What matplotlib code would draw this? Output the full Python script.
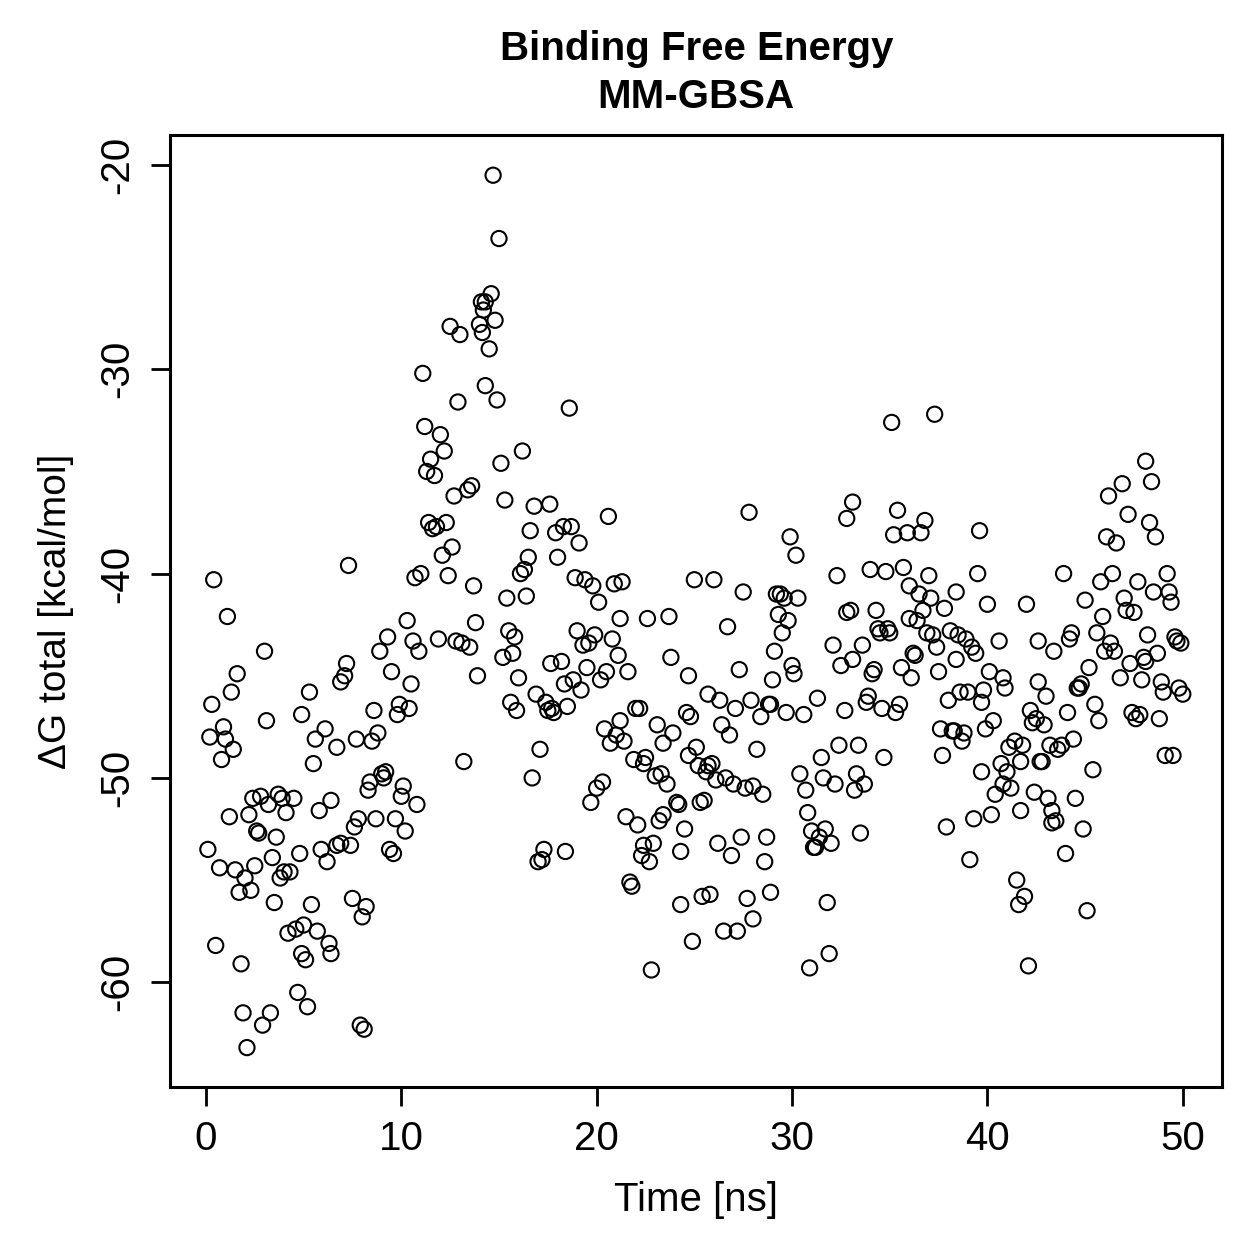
import matplotlib.pyplot as plt

plt.rcParams['font.family'] = ['Liberation Sans', 'DejaVu Sans']
plt.rcParams['axes.unicode_minus'] = False

# time [ns] and total binding free energy [kcal/mol]
time_ns = [
    0.1, 0.2, 0.3, 0.4, 0.5, 0.7, 0.8, 0.9, 1.0, 1.1,
    1.3, 1.2, 1.4, 1.5, 1.6, 1.7, 1.8, 1.9, 2.0, 2.1,
    2.2, 2.3, 2.4, 2.5, 2.6, 2.7, 2.8, 2.9, 3.0, 3.1,
    3.2, 3.3, 3.4, 3.5, 3.6, 3.7, 3.8, 3.9, 4.0, 4.1,
    4.2, 4.3, 4.5, 4.6, 4.7, 4.8, 4.9, 5.0, 4.9, 5.1,
    5.2, 5.4, 5.3, 5.5, 5.6, 5.7, 5.8, 5.9, 6.1, 6.2,
    6.3, 6.4, 6.4, 6.7, 6.7, 6.9, 6.9, 7.1, 7.2, 7.3,
    7.4, 7.5, 7.6, 7.7, 7.8, 7.9, 8.1, 8.0, 8.2, 8.3,
    8.4, 8.5, 8.6, 8.7, 8.8, 8.9, 9.0, 9.1, 9.2, 9.3,
    9.4, 9.6, 9.5, 9.7, 9.8, 9.9, 10.0, 10.1, 10.2, 10.3,
    10.4, 10.5, 10.6, 10.7, 10.8, 10.9, 11.0, 11.1, 11.2, 11.3,
    11.4, 11.5, 11.6, 11.7, 11.8, 11.9, 12.0, 12.1, 12.2, 12.3,
    12.4, 12.5, 12.6, 12.7, 12.8, 12.9, 13.0, 13.1, 13.2, 13.4,
    13.5, 13.6, 13.7, 13.8, 13.9, 14.0, 14.1, 14.15, 14.2, 14.3,
    14.3, 14.5, 14.6, 14.7, 14.8, 14.9, 15.0, 15.1, 15.2, 15.3,
    15.4, 15.5, 15.6, 15.7, 15.8, 15.9, 16.0, 16.1, 16.2, 16.3,
    16.4, 16.5, 16.6, 16.7, 16.8, 16.9, 17.0, 17.1, 17.2, 17.3,
    17.4, 17.5, 17.6, 17.7, 17.65, 17.8, 17.9, 18.0, 18.2, 18.3,
    18.35, 18.4, 18.5, 18.6, 18.7, 18.8, 18.9, 19.0, 19.1, 19.2,
    19.3, 19.4, 19.5, 19.6, 19.7, 19.8, 19.9, 20.0, 20.1, 20.2,
    20.3, 20.4, 20.5, 20.6, 20.7, 20.8, 20.9, 21.0, 21.1, 21.2,
    21.2, 21.3, 21.4, 21.5, 21.6, 21.7, 21.8, 21.9, 22.1, 22.0,
    22.2, 22.3, 22.4, 22.5, 22.4, 22.6, 22.7, 22.8, 22.9, 23.0,
    23.1, 23.2, 23.3, 23.4, 23.4, 23.6, 23.7, 23.8, 23.9, 24.2,
    24.1, 24.3, 24.3, 24.5, 24.6, 24.7, 24.8, 24.7, 24.9, 25.0,
    25.1, 25.2, 25.3, 25.4, 25.5, 25.6, 25.7, 25.7, 25.8, 25.9,
    26.0, 26.1, 26.2, 26.3, 26.4, 26.5, 26.6, 26.7, 26.8, 26.9,
    27.0, 27.2, 27.1, 27.3, 27.4, 27.5, 27.6, 27.7, 27.8, 27.9,
    28.0, 28.0, 28.2, 28.4, 28.5, 28.6, 28.7, 28.8, 28.9, 28.9,
    29.0, 29.1, 29.2, 29.4, 29.3, 29.5, 29.6, 29.8, 29.7, 29.9,
    30.0, 30.1, 30.2, 30.3, 30.4, 30.6, 30.7, 30.9, 30.8, 31.0,
    31.1, 31.2, 31.3, 31.5, 31.4, 31.6, 31.7, 31.8, 31.9, 32.0,
    32.1, 32.2, 32.3, 32.4, 32.5, 32.7, 32.8, 32.8, 33.0, 33.1,
    33.1, 33.2, 33.3, 33.4, 33.5, 33.6, 33.7, 33.8, 33.9, 34.0,
    34.1, 34.2, 34.3, 34.4, 34.5, 34.6, 34.7, 34.8, 34.9, 35.0,
    35.1, 35.2, 35.3, 35.4, 35.5, 35.6, 35.7, 35.9, 36.0, 36.0,
    36.2, 36.1, 36.3, 36.4, 36.5, 36.6, 36.7, 36.8, 36.9, 37.0,
    37.1, 37.2, 37.3, 37.4, 37.5, 37.6, 37.7, 37.8, 37.9, 38.0,
    38.1, 38.2, 38.3, 38.4, 38.4, 38.5, 38.6, 38.7, 38.8, 38.9,
    39.0, 39.1, 39.2, 39.3, 39.4, 39.5, 39.6, 39.7, 39.8, 39.7,
    40.0, 39.9, 40.1, 40.2, 40.3, 40.4, 40.6, 40.7, 40.8, 40.8,
    40.9, 41.0, 41.1, 41.2, 41.4, 41.5, 41.6, 41.7, 41.8, 41.7,
    41.9, 42.0, 42.1, 42.3, 42.2, 42.4, 42.5, 42.6, 42.7, 42.6,
    42.9, 42.8, 43.0, 43.1, 43.2, 43.3, 43.3, 43.4, 43.5, 43.6,
    43.8, 43.9, 44.0, 44.1, 44.2, 44.3, 44.4, 44.5, 44.6, 44.7,
    44.8, 44.9, 45.1, 45.0, 45.2, 45.4, 45.5, 45.6, 45.7, 45.8,
    45.9, 46.0, 46.1, 46.2, 46.3, 46.4, 46.5, 46.6, 46.8, 46.9,
    47.1, 47.0, 47.2, 47.3, 47.4, 47.5, 47.6, 47.7, 47.8, 47.9,
    48.0, 48.1, 48.1, 48.2, 48.3, 48.4, 48.5, 48.6, 48.7, 48.8,
    48.9, 49.0, 49.1, 49.2, 49.3, 49.4, 49.5, 49.6, 49.7, 49.8,
    49.9, 50.0,
]

delta_g = [
    -53.5, -48.0, -46.4, -40.3, -58.2, -54.4, -49.1, -47.5, -48.1, -42.1,
    -45.8, -51.9, -48.6, -54.5, -44.9, -55.6, -59.1, -61.5, -54.9, -63.2,
    -51.8, -55.5, -51.0, -54.3, -52.6, -52.7, -50.9, -62.1, -43.8, -47.2,
    -51.3, -61.5, -53.9, -56.1, -52.9, -50.8, -54.9, -51.0, -54.6, -51.7,
    -57.6, -54.6, -51.0, -57.4, -60.5, -53.7, -46.9, -57.2, -58.6, -58.9,
    -61.2, -56.2, -45.8, -49.3, -48.1, -57.5, -51.6, -53.5, -47.6, -54.1,
    -58.1, -58.6, -51.1, -53.3, -48.5, -45.3, -53.2, -45.0, -44.4, -39.6,
    -53.3, -55.9, -52.4, -48.1, -52.0, -62.1, -62.3, -56.8, -56.3, -50.6,
    -50.2, -48.2, -46.7, -52.0, -47.8, -43.8, -49.8, -50.0, -49.7, -43.1,
    -53.5, -53.7, -44.8, -52.0, -46.9, -46.4, -50.9, -50.4, -52.6, -42.3,
    -46.6, -45.4, -43.3, -40.2, -51.3, -43.8, -40.0, -30.2, -32.8, -35.0,
    -37.5, -34.4, -37.8, -35.2, -37.7, -43.2, -33.2, -39.1, -34.0, -37.5,
    -40.1, -27.9, -38.7, -36.2, -43.3, -31.6, -28.3, -43.4, -49.2, -35.9,
    -43.6, -35.7, -40.6, -42.4, -45.0, -27.8, -26.7, -28.2, -27.1, -30.8,
    -26.7, -29.0, -26.3, -20.5, -27.6, -31.5, -23.6, -34.6, -44.1, -36.4,
    -41.2, -42.8, -46.3, -43.9, -43.1, -46.7, -45.1, -40.0, -34.0, -39.8,
    -41.1, -39.2, -37.9, -50.0, -36.7, -45.9, -54.1, -48.6, -54.0, -53.5,
    -46.3, -46.7, -36.6, -46.6, -44.4, -46.8, -38.0, -39.2, -44.3, -37.7,
    -45.4, -53.6, -46.5, -31.9, -37.7, -45.2, -40.2, -42.8, -38.5, -45.7,
    -43.5, -40.3, -44.6, -43.4, -51.2, -40.6, -43.0, -50.5, -41.4, -45.2,
    -50.2, -47.6, -44.8, -37.2, -48.3, -43.2, -40.5, -47.9, -44.0, -47.2,
    -42.2, -40.4, -48.2, -51.9, -44.8, -55.1, -55.3, -49.1, -52.3, -46.6,
    -46.6, -53.8, -49.3, -49.0, -53.3, -42.2, -54.1, -59.4, -53.2, -49.9,
    -47.4, -52.1, -49.8, -51.8, -48.3, -50.3, -42.1, -44.1, -47.8, -51.3,
    -51.2, -53.6, -56.2, -52.5, -46.8, -45.0, -47.0, -48.9, -58.0, -40.3,
    -48.5, -49.4, -51.2, -55.8, -51.1, -49.7, -49.4, -45.9, -55.7, -49.3,
    -40.3, -50.1, -53.2, -46.2, -47.4, -57.5, -50.0, -42.6, -47.9, -53.8,
    -50.3, -57.5, -46.6, -44.7, -52.9, -40.9, -50.5, -55.9, -37.0, -46.2,
    -50.4, -56.9, -48.6, -47.0, -50.8, -54.1, -52.9, -46.4, -46.4, -55.6,
    -45.2, -43.8, -41.0, -41.0, -42.0, -42.9, -41.2, -42.3, -46.8, -38.2,
    -44.5, -44.9, -39.1, -41.2, -49.8, -46.9, -50.6, -59.3, -51.7, -52.6,
    -53.4, -53.4, -46.1, -49.0, -52.9, -50.0, -52.5, -56.1, -58.6, -53.2,
    -43.5, -50.3, -40.1, -48.4, -44.5, -46.7, -41.9, -37.3, -41.8, -36.5,
    -44.2, -50.6, -49.8, -48.4, -52.7, -43.5, -50.3, -46.3, -46.0, -39.8,
    -44.9, -44.7, -41.8, -42.7, -42.9, -46.6, -49.0, -39.9, -42.7, -42.9,
    -32.6, -38.1, -46.8, -36.9, -46.4, -44.6, -39.7, -38.0, -42.2, -40.6,
    -43.9, -45.1, -44.0, -42.3, -41.0, -38.0, -41.8, -37.4, -42.9, -40.1,
    -41.2, -43.0, -32.2, -43.6, -44.8, -47.6, -48.9, -41.7, -52.4, -46.2,
    -42.8, -47.7, -47.7, -44.2, -40.9, -43.0, -45.8, -48.2, -47.8, -43.2,
    -45.8, -54.0, -43.6, -52.0, -43.9, -40.0, -37.9, -49.7, -45.7, -46.3,
    -41.5, -47.6, -44.8, -51.8, -47.2, -50.8, -43.3, -49.3, -45.1, -50.3,
    -45.6, -49.7, -48.5, -50.5, -48.2, -55.0, -56.2, -49.2, -48.4, -51.6,
    -55.8, -41.5, -59.2, -47.3, -46.7, -50.7, -47.1, -43.3, -49.2, -45.3,
    -47.4, -49.2, -46.0, -51.0, -48.4, -51.6, -52.2, -43.8, -52.1, -48.6,
    -48.4, -40.0, -53.7, -46.8, -43.2, -42.9, -48.1, -51.0, -45.6, -45.6,
    -45.4, -52.5, -56.5, -41.3, -44.6, -49.6, -46.4, -42.9, -47.2, -40.4,
    -42.1, -43.8, -38.2, -36.2, -43.4, -40.0, -43.8, -38.5, -45.1, -35.6,
    -41.8, -41.2, -37.1, -44.4, -46.8, -41.9, -47.1, -40.4, -46.9, -45.2,
    -44.1, -44.3, -34.5, -43.0, -37.5, -35.5, -40.9, -38.2, -43.9, -47.1,
    -45.3, -45.8, -48.9, -40.0, -40.9, -41.4, -48.9, -43.1, -43.3, -45.6,
    -43.4, -45.9,
]

x_ticks = [0, 10, 20, 30, 40, 50]
y_ticks = [-60, -50, -40, -30, -20]

fig = plt.figure(figsize=(6.295, 6.295), dpi=200)
ax = fig.add_axes([0.135, 0.1366, 0.8355, 0.7562])

ax.scatter(time_ns, delta_g, s=30, facecolors="none", edgecolors="black",
           linewidths=0.75)

ax.set_xlim(-1.84, 52.0)
ax.set_ylim(-65.13, -18.53)
ax.set_xticks(x_ticks)
ax.set_yticks(y_ticks)
ax.tick_params(axis="both", direction="out", length=7, width=1.0,
               labelsize=14.5, pad=5)
ax.tick_params(axis="y", labelrotation=90)
for label in ax.get_yticklabels():
    label.set_va("center")

for spine in ax.spines.values():
    spine.set_linewidth(1.1)

ax.set_xlabel("Time [ns]", fontsize=14.5, labelpad=8)
ax.set_ylabel("\u0394G total [kcal/mol]", fontsize=14, labelpad=9)

fig.text(0.553, 0.961, "Binding Free Energy", ha="center", va="center",
         fontsize=14.5, fontweight="bold")
fig.text(0.553, 0.923, "MM-GBSA", ha="center", va="center",
         fontsize=14.5, fontweight="bold")

plt.savefig("out.png", dpi=200)
